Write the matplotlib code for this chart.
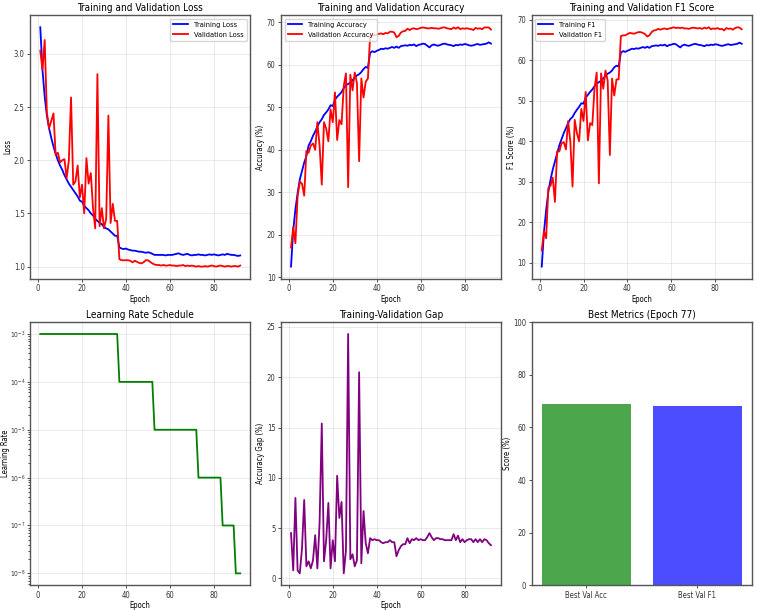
import matplotlib
matplotlib.use("Agg")
import matplotlib.pyplot as plt
import numpy as np

plt.rcParams['font.family'] = ['DejaVu Sans']
plt.rcParams['font.stretch'] = 'condensed'

# per-epoch training history
train_loss = [3.25, 2.85, 2.60, 2.42, 2.30, 2.21, 2.13, 2.06, 2.00, 1.95,
              1.91, 1.86, 1.82, 1.78, 1.75, 1.72, 1.69, 1.66, 1.62, 1.61,
              1.57, 1.55, 1.53, 1.50, 1.48, 1.45, 1.43, 1.41, 1.40, 1.37,
              1.36, 1.35, 1.33, 1.31, 1.29, 1.29,
              1.18, 1.17, 1.165, 1.17, 1.16, 1.155, 1.15, 1.15, 1.145, 1.14,
              1.14, 1.135, 1.13, 1.135, 1.13, 1.12, 1.11, 1.11, 1.11, 1.11,
              1.11, 1.105, 1.11, 1.11, 1.11, 1.115, 1.12, 1.125, 1.115, 1.11,
              1.115, 1.12, 1.11, 1.105, 1.11, 1.11, 1.115, 1.11, 1.11, 1.105,
              1.11, 1.115, 1.11, 1.115, 1.11, 1.105, 1.11, 1.115, 1.11, 1.12,
              1.115, 1.11, 1.11, 1.105, 1.10, 1.105]
val_loss = [3.03, 2.85, 3.13, 2.45, 2.30, 2.37, 2.44, 2.05, 2.07, 1.98,
            2.00, 2.01, 1.83, 2.00, 2.59, 1.77, 1.80, 1.95, 1.65, 1.77,
            1.50, 2.02, 1.78, 1.88, 1.55, 1.36, 2.81, 1.38, 1.55, 1.36,
            1.45, 2.42, 1.41, 1.59, 1.43, 1.43,
            1.07, 1.06, 1.06, 1.06, 1.06, 1.055, 1.04, 1.055, 1.045, 1.035,
            1.03, 1.04, 1.06, 1.06, 1.045, 1.03, 1.02, 1.015, 1.015, 1.01,
            1.015, 1.01, 1.01, 1.015, 1.01, 1.01, 1.005, 1.01, 1.01, 1.015,
            1.005, 1.01, 1.005, 1.01, 1.005, 1.0, 1.005, 1.0, 1.0, 1.005,
            1.0, 1.005, 1.01, 1.005, 1.0, 1.005, 1.01, 1.005, 1.0, 1.005,
            1.005, 1.0, 1.005, 1.005, 1.0, 1.01]
train_acc = [12.5, 21.0, 26.0, 29.8, 33.0, 35.0, 37.0, 38.5, 41.0, 42.0,
             43.3, 44.3, 45.5, 46.5, 47.2, 48.2, 48.8, 49.5, 50.5, 50.3,
             51.8, 52.5, 53.0, 53.6, 54.5, 55.2, 55.5, 55.8, 56.4, 57.0,
             57.5, 57.8, 58.3, 59.0, 59.5, 59.3,
             62.8, 63.2, 63.0, 63.3, 63.5, 63.8, 63.7, 63.9, 63.8, 64.0,
             64.2, 64.0, 64.3, 64.0, 64.4, 64.5, 64.6, 64.5, 64.7, 64.6,
             64.8, 64.4, 64.7, 64.8, 65.0, 64.9, 64.5, 64.1, 64.6, 64.8,
             64.6, 64.5, 64.7, 64.9, 65.0, 64.8, 64.7, 64.6, 64.4, 64.7,
             64.6, 64.8, 64.7, 64.9, 64.8, 64.6, 64.5, 64.6, 64.8, 64.9,
             64.7, 64.8, 64.9, 65.0, 65.3, 65.0]
val_acc = [17.0, 21.8, 18.0, 29.0, 32.5, 32.0, 29.2, 39.7, 39.3, 41.0,
           41.5, 40.0, 46.5, 41.0, 31.8, 46.5, 45.0, 42.0, 49.5, 46.5,
           53.5, 42.3, 47.0, 46.0, 55.0, 58.0, 31.2, 57.7, 54.0, 58.2,
           55.7, 37.3, 56.8, 52.3, 56.0, 56.8,
           66.8, 67.0, 66.9, 67.1, 67.3, 67.4, 67.2, 67.5, 67.4, 67.8,
           67.8, 67.6, 66.5, 66.8, 67.6, 67.9, 68.0, 68.5, 68.2, 68.5,
           68.6, 68.4, 68.5, 68.7, 68.8, 68.7, 68.6, 68.6, 68.7, 68.6,
           68.6, 68.5, 68.6, 68.8, 68.8, 68.6, 68.5, 68.4, 68.8, 68.5,
           68.85, 68.4, 68.6, 68.5, 68.6, 68.5, 68.4, 68.2, 68.7, 68.5,
           68.6, 68.4, 68.8, 68.8, 68.8, 68.3]
train_f1 = [9.0, 17.5, 23.0, 27.5, 30.5, 33.0, 35.0, 37.0, 39.0, 40.5,
            42.0, 43.2, 44.5, 45.5, 46.0, 47.0, 47.8, 48.5, 49.4, 49.3,
            50.8, 51.5, 52.2, 52.8, 53.6, 54.3, 54.6, 55.0, 55.5, 56.2,
            56.7, 57.0, 57.5, 58.3, 58.7, 58.5,
            61.9, 62.3, 62.1, 62.4, 62.6, 62.9, 62.8, 63.0, 62.9, 63.1,
            63.3, 63.1, 63.4, 63.1, 63.5, 63.6, 63.7, 63.6, 63.8, 63.7,
            63.9, 63.5, 63.8, 63.9, 64.1, 64.0, 63.6, 63.2, 63.7, 63.9,
            63.7, 63.6, 63.8, 64.0, 64.1, 63.9, 63.8, 63.7, 63.5, 63.8,
            63.7, 63.9, 63.8, 64.0, 63.9, 63.7, 63.6, 63.7, 63.9, 64.0,
            63.8, 63.9, 64.0, 64.1, 64.4, 64.1]
val_f1 = [13.0, 17.8, 16.0, 28.5, 29.0, 31.0, 25.0, 37.5, 37.5, 39.5,
          39.8, 38.0, 45.0, 40.0, 28.8, 45.3, 42.0, 40.0, 48.0, 45.0,
          52.2, 40.2, 44.5, 44.0, 53.0, 57.0, 29.6, 56.8, 53.0, 57.5,
          55.0, 36.6, 55.5, 51.3, 55.3, 55.3,
          66.0, 66.2, 66.2, 66.5, 66.8, 66.7, 66.6, 66.8, 67.0, 67.0,
          66.8, 66.5, 65.9, 66.2, 67.0, 67.4, 67.5, 67.8, 67.6, 67.8,
          67.9, 67.7, 67.9, 68.0, 68.2, 68.0, 68.1, 68.0, 68.1, 67.9,
          67.9, 67.8, 68.0, 68.1, 68.0, 67.9, 68.0, 67.8, 68.1, 67.9,
          68.2, 67.7, 67.9, 67.8, 68.0, 67.7, 67.8, 67.4, 68.0, 67.8,
          67.9, 67.6, 68.0, 68.2, 68.1, 67.7]
learning_rate = ([1e-3] * 36 + [1e-4] * 16 + [1e-5] * 20 +
                 [1e-6] * 11 + [1e-7] * 6 + [1e-8] * 3)

best_epoch = 77
best_labels = ['Best Val Acc', 'Best Val F1']
best_values = [68.85, 68.2]

epochs = np.arange(1, len(train_loss) + 1)
gap = np.abs(np.array(train_acc) - np.array(val_acc))

TS, LS, TK, LG = 7.2, 5.5, 5.5, 5.3

fig, axes = plt.subplots(2, 3, figsize=(7.57, 6.11), dpi=100)
plt.subplots_adjust(left=0.040, right=0.993, top=0.975, bottom=0.042,
                    wspace=0.14, hspace=0.165)


def style(ax, grid=True):
    for s in ax.spines.values():
        s.set_color('#555555')
        s.set_linewidth(1.0)
    ax.tick_params(labelsize=TK, length=2.5, width=0.6, pad=1.5, colors='#333333')
    if grid:
        ax.grid(True, alpha=0.3, linewidth=0.6)


ax = axes[0, 0]
ax.plot(epochs, train_loss, 'b-', label='Training Loss', linewidth=1.3)
ax.plot(epochs, val_loss, 'r-', label='Validation Loss', linewidth=1.3)
ax.set_title('Training and Validation Loss', fontsize=TS, pad=3)
ax.set_xlabel('Epoch', fontsize=LS, labelpad=1)
ax.set_ylabel('Loss', fontsize=LS, labelpad=1)
ax.legend(fontsize=LG, loc='upper right')
style(ax)

ax = axes[0, 1]
ax.plot(epochs, train_acc, 'b-', label='Training Accuracy', linewidth=1.3)
ax.plot(epochs, val_acc, 'r-', label='Validation Accuracy', linewidth=1.3)
ax.set_title('Training and Validation Accuracy', fontsize=TS, pad=3)
ax.set_xlabel('Epoch', fontsize=LS, labelpad=1)
ax.set_ylabel('Accuracy (%)', fontsize=LS, labelpad=1)
ax.legend(fontsize=LG, loc='upper left')
style(ax)

ax = axes[0, 2]
ax.plot(epochs, train_f1, 'b-', label='Training F1', linewidth=1.3)
ax.plot(epochs, val_f1, 'r-', label='Validation F1', linewidth=1.3)
ax.set_title('Training and Validation F1 Score', fontsize=TS, pad=3)
ax.set_xlabel('Epoch', fontsize=LS, labelpad=1)
ax.set_ylabel('F1 Score (%)', fontsize=LS, labelpad=1)
ax.legend(fontsize=LG, loc='upper left')
style(ax)

ax = axes[1, 0]
ax.semilogy(epochs, learning_rate, 'g-', linewidth=1.3)
ax.set_title('Learning Rate Schedule', fontsize=TS, pad=3)
ax.set_xlabel('Epoch', fontsize=LS, labelpad=1)
ax.set_ylabel('Learning Rate', fontsize=LS, labelpad=0)
style(ax)
ax.tick_params(axis='y', which='major', labelsize=4.8, pad=1)
ax.tick_params(axis='y', which='minor', length=1.5, width=0.5)

ax = axes[1, 1]
ax.plot(epochs, gap, color='purple', linewidth=1.3)
ax.set_title('Training-Validation Gap', fontsize=TS, pad=3)
ax.set_xlabel('Epoch', fontsize=LS, labelpad=1)
ax.set_ylabel('Accuracy Gap (%)', fontsize=LS, labelpad=1)
style(ax)

ax = axes[1, 2]
ax.bar(best_labels, best_values, color=['green', 'blue'], alpha=0.7)
ax.set_title(f'Best Metrics (Epoch {best_epoch})', fontsize=TS, pad=3)
ax.set_ylabel('Score (%)', fontsize=LS, labelpad=1)
ax.set_ylim(0, 100)
style(ax, grid=False)

plt.savefig('out.png', dpi=100)
